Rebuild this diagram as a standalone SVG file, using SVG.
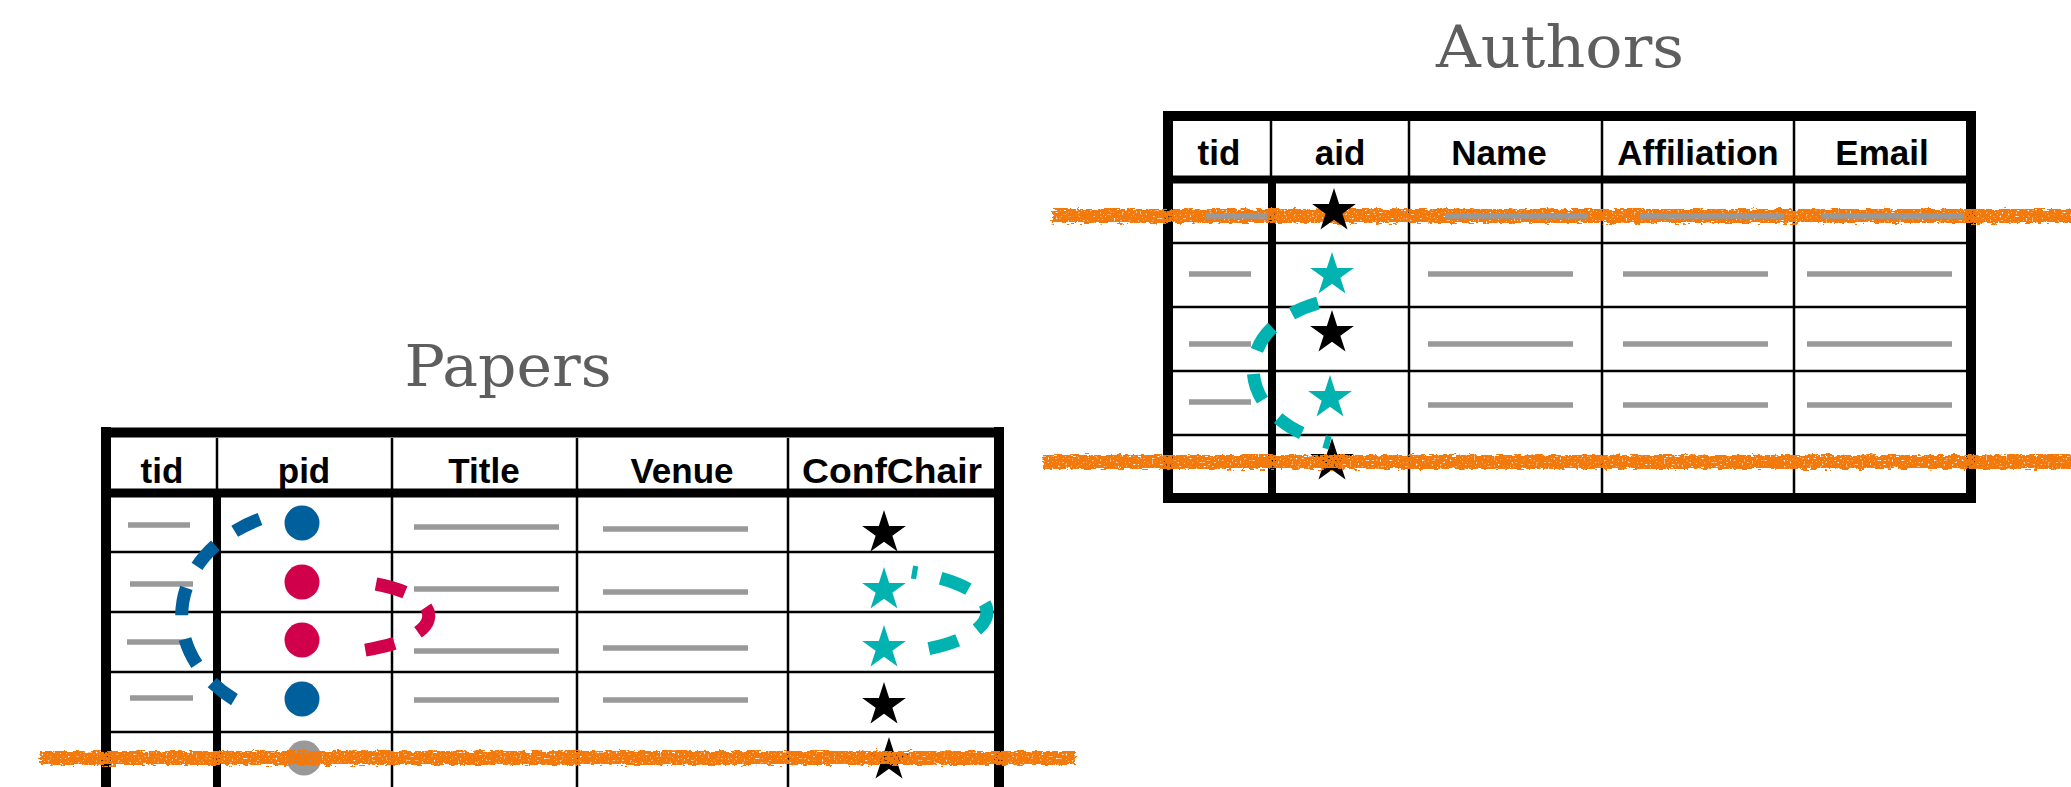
<svg xmlns="http://www.w3.org/2000/svg" width="2071" height="787" viewBox="0 0 2071 787">
<defs>
<style>
.thick{stroke:#000;stroke-width:10;fill:none}
.mid{stroke:#000;stroke-width:8;fill:none}
.thin{stroke:#000;stroke-width:2.5;fill:none}
.gray{stroke:#999;stroke-width:5.5}
.hdr{font-family:"Liberation Sans",Arial,sans-serif;font-weight:bold;font-size:35px;text-anchor:middle;fill:#000}
.title{font-family:"DejaVu Serif","Liberation Serif",serif;font-size:58px;fill:#5e5e5e;text-anchor:middle}
.dash{fill:none;stroke-width:13;stroke-dasharray:28 24}
.strike{fill:#F27A0E}
.blk{fill:#000}
.teal{fill:#00B3B0}
</style>
<path id="star" d="M0,-23 L5.17,-7.11 L21.87,-7.11 L8.36,2.72 L13.52,18.61 L0,8.79 L-13.52,18.61 L-8.36,2.72 L-21.87,-7.11 L-5.17,-7.11 Z"/>
<filter id="rough" x="-3%" y="-150%" width="106%" height="400%">
<feTurbulence type="fractalNoise" baseFrequency="0.12 0.5" numOctaves="3" seed="7" result="noise"/>
<feDisplacementMap in="SourceGraphic" in2="noise" scale="7" xChannelSelector="R" yChannelSelector="G" result="d"/>
<feTurbulence type="fractalNoise" baseFrequency="0.5" numOctaves="1" seed="2" result="n2"/>
<feColorMatrix in="n2" type="matrix" values="0 0 0 0 0  0 0 0 0 0  0 0 0 0 0  0 0 0 -6 4.8" result="mask"/>
<feComposite in="d" in2="mask" operator="in"/>
</filter>
</defs>
<rect width="2071" height="787" fill="#fff"/>

<g id="papers">
<text class="title" x="508" y="386" textLength="207" lengthAdjust="spacingAndGlyphs">Papers</text>
<line class="thick" x1="101" y1="432.5" x2="1004" y2="432.5"/>
<line class="thick" x1="106" y1="427" x2="106" y2="800"/>
<line class="thick" x1="999" y1="427" x2="999" y2="800"/>
<line class="thin" x1="217" y1="438" x2="217" y2="489"/>
<line class="thin" x1="392" y1="438" x2="392" y2="800"/>
<line class="thin" x1="577" y1="438" x2="577" y2="800"/>
<line class="thin" x1="788" y1="438" x2="788" y2="800"/>
<line class="mid" x1="217" y1="493" x2="217" y2="800"/>
<line class="mid" x1="101" y1="493" x2="1004" y2="493" style="stroke-width:9"/>
<line class="thin" x1="111" y1="552" x2="994" y2="552"/>
<line class="thin" x1="111" y1="612" x2="994" y2="612"/>
<line class="thin" x1="111" y1="672" x2="994" y2="672"/>
<line class="thin" x1="111" y1="732" x2="994" y2="732"/>
<text class="hdr" x="162" y="483">tid</text>
<text class="hdr" x="304" y="483">pid</text>
<text class="hdr" x="484" y="483">Title</text>
<text class="hdr" x="682" y="483">Venue</text>
<text class="hdr" x="892" y="483" textLength="180" lengthAdjust="spacingAndGlyphs">ConfChair</text>
<line class="gray" x1="128" y1="525" x2="190" y2="525"/>
<line class="gray" x1="414" y1="527" x2="559" y2="527"/>
<line class="gray" x1="603" y1="529" x2="748" y2="529"/>
<line class="gray" x1="130" y1="584" x2="193" y2="584"/>
<line class="gray" x1="414" y1="589" x2="559" y2="589"/>
<line class="gray" x1="603" y1="592" x2="748" y2="592"/>
<line class="gray" x1="127" y1="642" x2="190" y2="642"/>
<line class="gray" x1="414" y1="651" x2="559" y2="651"/>
<line class="gray" x1="603" y1="648" x2="748" y2="648"/>
<line class="gray" x1="130" y1="698" x2="193" y2="698"/>
<line class="gray" x1="414" y1="700" x2="559" y2="700"/>
<line class="gray" x1="603" y1="700" x2="748" y2="700"/>
<circle cx="302" cy="523" r="17.5" fill="#00609C"/>
<circle cx="302" cy="582" r="17.5" fill="#D1004A"/>
<circle cx="302" cy="640" r="17.5" fill="#D1004A"/>
<circle cx="302" cy="699" r="17.5" fill="#00609C"/>
<circle cx="304" cy="758" r="17.5" fill="#999"/>
<use href="#star" class="blk" x="884" y="533"/>
<use href="#star" class="teal" x="884" y="590"/>
<use href="#star" class="teal" x="884" y="648"/>
<use href="#star" class="blk" x="884" y="705"/>
<use href="#star" class="blk" x="889" y="760"/>
</g>

<g id="authors">
<text class="title" x="1560" y="67" textLength="248" lengthAdjust="spacingAndGlyphs">Authors</text>
<rect class="thick" x="1168" y="116" width="803" height="382"/>
<line class="thin" x1="1271" y1="121" x2="1271" y2="177"/>
<line class="thin" x1="1409" y1="121" x2="1409" y2="493"/>
<line class="thin" x1="1602" y1="121" x2="1602" y2="493"/>
<line class="thin" x1="1794" y1="121" x2="1794" y2="493"/>
<line class="mid" x1="1272" y1="180" x2="1272" y2="493"/>
<line class="mid" x1="1163" y1="179.5" x2="1976" y2="179.5"/>
<line class="thin" x1="1173" y1="243" x2="1966" y2="243"/>
<line class="thin" x1="1173" y1="307" x2="1966" y2="307"/>
<line class="thin" x1="1173" y1="371" x2="1966" y2="371"/>
<line class="thin" x1="1173" y1="435" x2="1966" y2="435"/>
<text class="hdr" x="1219" y="165">tid</text>
<text class="hdr" x="1340" y="165">aid</text>
<text class="hdr" x="1499" y="165">Name</text>
<text class="hdr" x="1698" y="165">Affiliation</text>
<text class="hdr" x="1882" y="165">Email</text>
<line class="gray" x1="1189" y1="274" x2="1251" y2="274"/>
<line class="gray" x1="1428" y1="274" x2="1573" y2="274"/>
<line class="gray" x1="1623" y1="274" x2="1768" y2="274"/>
<line class="gray" x1="1807" y1="274" x2="1952" y2="274"/>
<line class="gray" x1="1189" y1="344" x2="1251" y2="344"/>
<line class="gray" x1="1428" y1="344" x2="1573" y2="344"/>
<line class="gray" x1="1623" y1="344" x2="1768" y2="344"/>
<line class="gray" x1="1807" y1="344" x2="1952" y2="344"/>
<line class="gray" x1="1189" y1="402" x2="1251" y2="402"/>
<line class="gray" x1="1428" y1="405" x2="1573" y2="405"/>
<line class="gray" x1="1623" y1="405" x2="1768" y2="405"/>
<line class="gray" x1="1807" y1="405" x2="1952" y2="405"/>
<use href="#star" class="teal" x="1332" y="275"/>
<use href="#star" class="blk" x="1332" y="333"/>
<use href="#star" class="teal" x="1330" y="398"/>
<use href="#star" class="blk" x="1332" y="461"/>
</g>

<g id="strikes">
<rect class="strike" x="40" y="751" width="1035" height="14" filter="url(#rough)"/>
<rect class="strike" x="1043" y="455" width="1040" height="14" filter="url(#rough)"/>
<rect class="strike" x="1052" y="209" width="1030" height="14" filter="url(#rough)"/>
</g>

<g id="authors-row1">
<line class="gray" x1="1206" y1="216" x2="1267" y2="216"/>
<line class="gray" x1="1445" y1="216" x2="1588" y2="216"/>
<line class="gray" x1="1640" y1="216" x2="1784" y2="216"/>
<line class="gray" x1="1822" y1="216" x2="1964" y2="216"/>
<use href="#star" class="blk" x="1334" y="211"/>
</g>

<g id="connectors">
<path class="dash" stroke="#00609C" d="M 260,519 C 158,558 155,668 255,710"/>
<path class="dash" stroke="#D1004A" style="stroke-dasharray:30 26" d="M 376,584 C 450,598 450,640 352,652"/>
<path class="dash" stroke="#00B3B0" style="stroke-dasharray:5 24 30 22 30 22 30 40" d="M 912,572 C 1020,590 1005,640 908,652"/>
<path class="dash" stroke="#00B3B0" d="M 1318,303 C 1225,330 1235,420 1330,443"/>
</g>
</svg>
